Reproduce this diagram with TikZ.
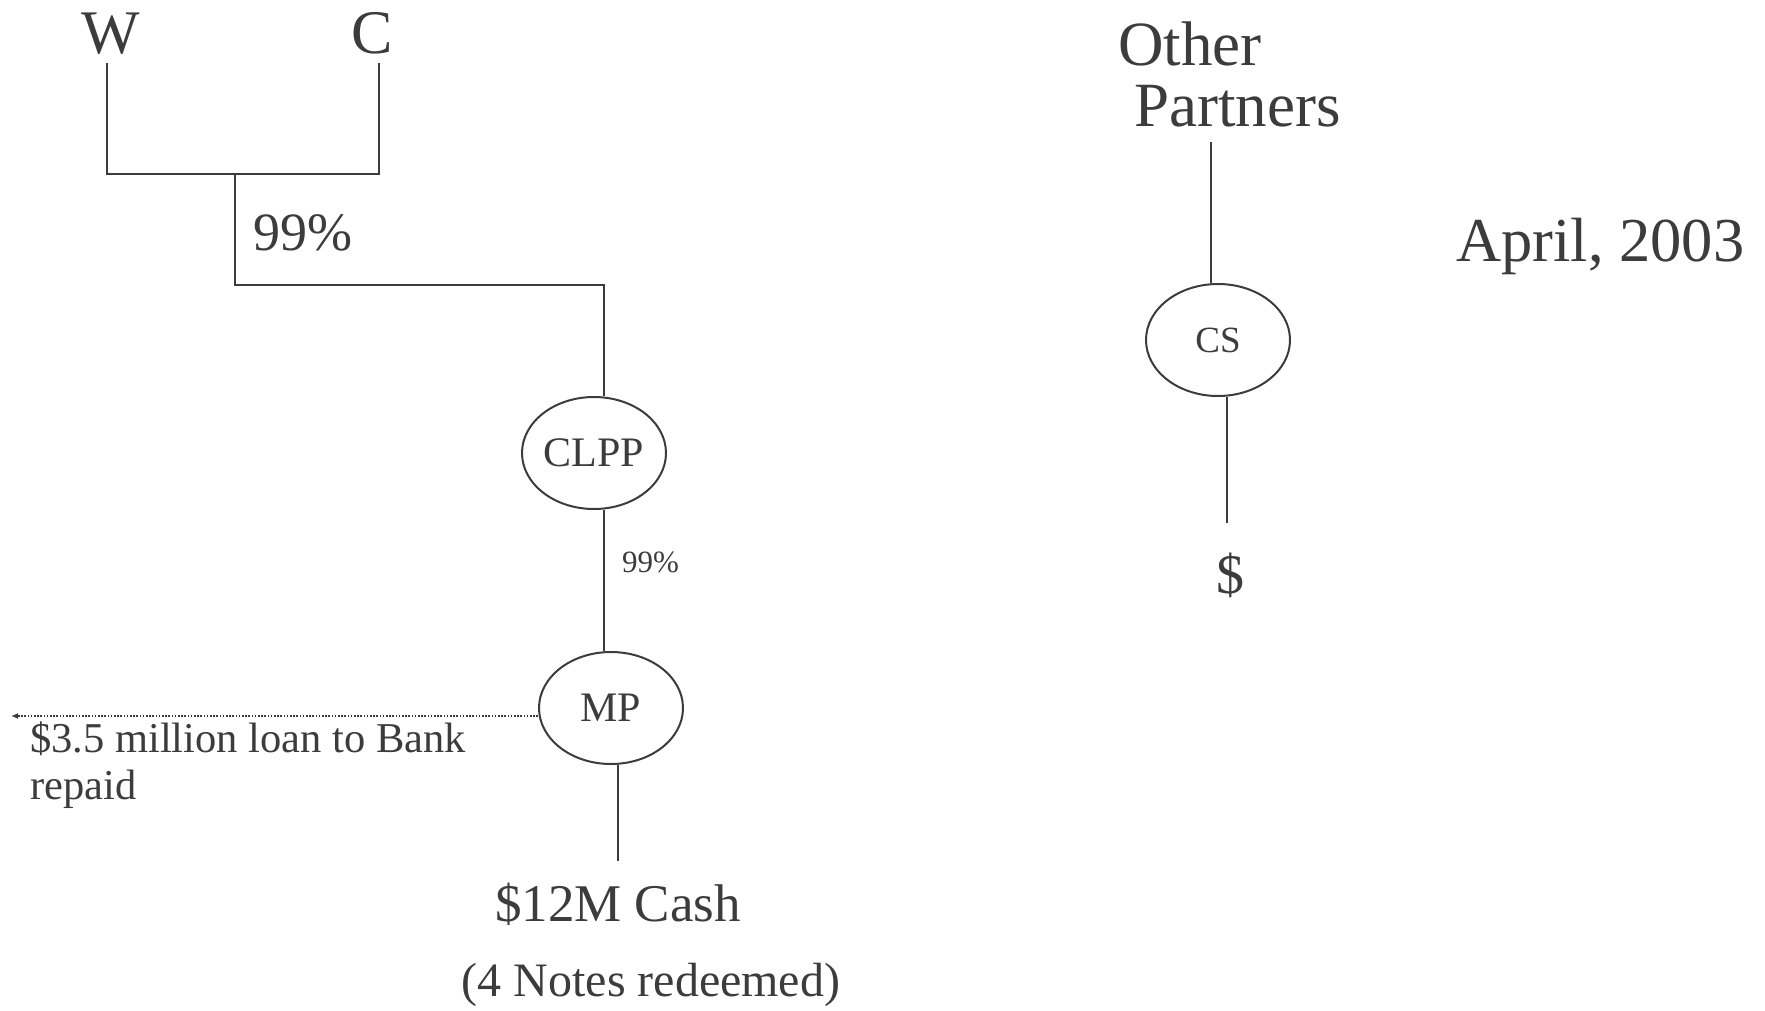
\documentclass[tikz,border=0pt]{standalone}
\usepackage{fontspec}
\setmainfont{Liberation Serif}
\usetikzlibrary{shapes.geometric,arrows.meta}
\definecolor{ink}{HTML}{3C3C3C}
\tikzset{
  txt/.style={inner sep=0pt, text=ink, anchor=base west},
  conn/.style={draw=ink, line width=2.8pt},
  oval/.style={ellipse, draw=ink, line width=2pt, minimum width=144pt, minimum height=112pt, inner sep=0pt, text=ink, font=\fontsize{42}{48}\selectfont}
}
\begin{document}
\begin{tikzpicture}[x=1pt,y=-1pt]
\useasboundingbox (0,0) rectangle (1765,1010);
% left group
\node[txt, font=\fontsize{62}{70}\selectfont] (W) at (81,53) {W};
\node[txt, font=\fontsize{62}{70}\selectfont] (C) at (351,53) {C};
\coordinate (Wb) at (107,63);
\coordinate (Cb) at (379,63);
\coordinate (j) at (235,174);
\coordinate (k) at (604,285);
\draw[conn] (Wb) |- (j) -| (Cb);
\node[txt, font=\fontsize{54}{60}\selectfont] (p1) at (253,250) {99\%};
\node[oval] (CLPP) at (594,453) {CLPP};
\draw[conn] (j) |- (k) -- (k |- CLPP.north);
\node[oval] (MP) at (611,708) {MP};
\draw[conn] (k |- CLPP.south) -- (k |- MP.north);
\node[txt, font=\fontsize{31}{36}\selectfont] (p2) at (622,572) {99\%};
\coordinate (arr) at (11,716);
\draw[draw=ink, line width=1.6pt, dash pattern=on 1.6pt off 1.6pt, -{Latex[length=7pt,width=6pt]}] (MP.west |- arr) -- (arr);
\node[txt, font=\fontsize{42.5}{47}\selectfont, align=left, anchor=base west] (loan) at (30,799) {\$3.5 million loan to Bank\\repaid};
\coordinate (mpb) at (618,861);
\draw[conn] (mpb |- MP.south) -- (mpb);
\node[txt, font=\fontsize{53}{60}\selectfont, anchor=base] (cash) at (618,921) {\$12M Cash};
\node[txt, font=\fontsize{48}{54}\selectfont, anchor=base] (notes) at (651,996) {(4 Notes redeemed)};
% right group
\node[txt, font=\fontsize{63}{70}\selectfont] (oth) at (1118,65) {Other};
\node[txt, font=\fontsize{63}{70}\selectfont] (par) at (1134,126) {Partners};
\node[oval, font=\fontsize{37}{42}\selectfont] (CS) at (1218,340) {CS};
\coordinate (opb) at (1211,142);
\draw[conn] (opb) -- (opb |- CS.north);
\coordinate (csb) at (1227,523);
\draw[conn] (csb |- CS.south) -- (csb);
\node[txt, font=\fontsize{56}{62}\selectfont, anchor=base] (dol) at (1230,593) {\$};
\node[txt, font=\fontsize{62.5}{70}\selectfont] (date) at (1456,261) {April, 2003};
\end{tikzpicture}
\end{document}
